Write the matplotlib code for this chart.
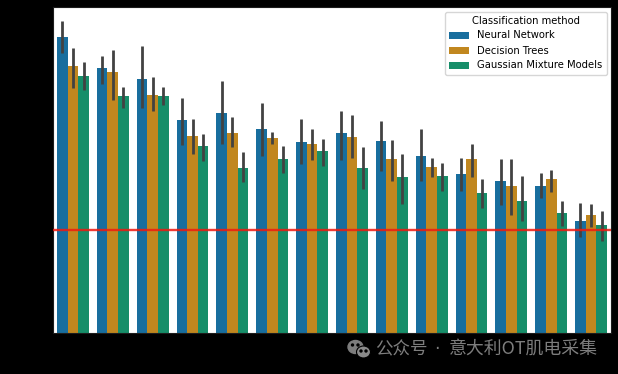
import numpy as np
from matplotlib import pyplot as plt
from matplotlib.patches import Ellipse

methods = ['Neural Network', 'Decision Trees', 'Gaussian Mixture Models']
colors = ['#186e9e', '#c1871f', '#168e69']

# bar heights, no y labels in the picture so the unit is arbitrary
nn = [2.96, 2.65, 2.54, 2.13, 2.20, 2.04, 1.91, 2.00, 1.92, 1.77, 1.59, 1.52, 1.47, 1.12]
dt = [2.67, 2.61, 2.38, 1.97, 2.00, 1.95, 1.89, 1.96, 1.74, 1.66, 1.74, 1.47, 1.54, 1.18]
gmm = [2.57, 2.37, 2.37, 1.87, 1.65, 1.74, 1.82, 1.65, 1.56, 1.57, 1.40, 1.32, 1.20, 1.08]

# error bars
nn_hi = [3.12, 2.77, 2.87, 2.35, 2.52, 2.30, 2.14, 2.22, 2.12, 2.04, 1.75, 1.74, 1.60, 1.30]
nn_lo = [2.80, 2.49, 2.25, 1.88, 1.89, 1.77, 1.69, 1.73, 1.62, 1.52, 1.42, 1.28, 1.35, 0.96]
dt_hi = [2.85, 2.83, 2.56, 2.14, 2.16, 2.01, 2.04, 2.18, 1.93, 1.75, 1.89, 1.74, 1.63, 1.29]
dt_lo = [2.45, 2.33, 2.22, 1.79, 1.86, 1.89, 1.73, 1.75, 1.52, 1.56, 1.56, 1.18, 1.41, 1.06]
gmm_hi = [2.71, 2.46, 2.46, 1.99, 1.81, 1.87, 1.94, 1.86, 1.79, 1.70, 1.54, 1.57, 1.32, 1.22]
gmm_lo = [2.43, 2.25, 2.28, 1.72, 1.51, 1.60, 1.67, 1.44, 1.29, 1.42, 1.25, 1.12, 1.07, 0.92]

threshold = 1.03

heights = [nn, dt, gmm]
highs = [nn_hi, dt_hi, gmm_hi]
lows = [nn_lo, dt_lo, gmm_lo]

W, H = 618, 374
fig = plt.figure(figsize=(W / 100, H / 100), dpi=100, facecolor='black')
ax = fig.add_axes([53 / W, 1 - 333 / H, (611 - 53) / W, (333 - 7) / H])

x = np.arange(len(nn))
width = 0.8 / 3
for i in range(3):
    pos = x + (i - 1) * width
    ax.bar(pos, heights[i], width, color=colors[i], label=methods[i])
    ax.vlines(pos, lows[i], highs[i], color='#424242', lw=2.0, zorder=3)

ax.axhline(threshold, color='#f01a10', lw=1.7, alpha=0.85, zorder=4)

ax.set_xlim(-0.5, 13.5)
ax.set_ylim(0, 3.26)
ax.set_xticks([])
ax.set_yticks([])
for s in ax.spines.values():
    s.set_color('#1c1c1c')

leg = ax.legend(title='Classification method', loc='upper right', fontsize=7.2,
                title_fontsize=7.2, borderaxespad=0.45)

# watermark
cjk = ['Noto Sans CJK SC', 'DejaVu Sans']
fig.text(375 / W, 1 - 349 / H, '公众号', color='#7d7d7d', fontsize=12.6, va='center', family=cjk)
fig.text(437 / W, 1 - 349 / H, '·', color='#7d7d7d', fontsize=12.6, va='center', ha='center',
         family=['DejaVu Sans'])
fig.text(449 / W, 1 - 349 / H, '意大利OT肌电采集', color='#7d7d7d', fontsize=12.9, va='center', family=cjk)

bg = fig.add_axes([0, 0, 1, 1], facecolor='none')
bg.set_xlim(0, W)
bg.set_ylim(H, 0)
bg.axis('off')
bg.add_patch(Ellipse((355.5, 347), 15, 13, color='#7d7d7d'))
bg.add_patch(Ellipse((363.5, 352), 14, 12, facecolor='#8a8a8a', edgecolor='black', lw=0.8))
for ex, ey in [(352.5, 345), (358, 345), (361, 351), (366, 351)]:
    bg.add_patch(Ellipse((ex, ey), 2, 2, color='black'))

fig.savefig('out.png', dpi=100, facecolor='black')
